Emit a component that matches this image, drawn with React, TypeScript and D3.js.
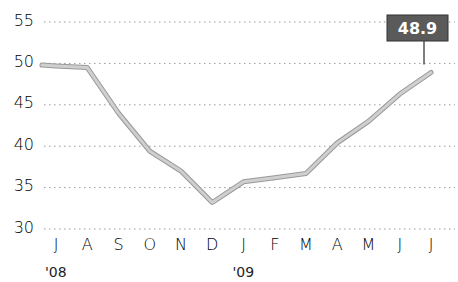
import React from "react";
import * as d3 from "d3";

const WIDTH = 458;
const HEIGHT = 282;

// month ticks, Jul '08 .. Jul '09
const months = ["J", "A", "S", "O", "N", "D", "J", "F", "M", "A", "M", "J", "J"];
const yearLabels = ["'08", "'09"];
const yearTickIndex = [0, 6];
const yTicks = [30, 35, 40, 45, 50, 55];

// line samples: position in months from Jul '08, and value
const samplePos = [-0.45, 0, 1, 2, 3, 4, 5, 6, 7, 8, 9, 10, 11, 12];
const sampleValue = [49.8, 49.7, 49.5, 44.0, 39.4, 37.0, 33.2, 35.7, 36.2, 36.7, 40.4, 43.0, 46.3, 48.9];

const FONT = "'DejaVu Sans', sans-serif";

export default function App() {
  const x = d3.scaleLinear().domain([0, 12]).range([56, 431]);
  const y = d3.scaleLinear().domain([30, 55]).range([229, 22]);

  const pts: [number, number][] = samplePos.map((p, i) => [x(p), y(sampleValue[i])]);
  const line = d3.line().curve(d3.curveLinear)(pts) || "";

  const last = pts[pts.length - 1];
  const lastValue = sampleValue[sampleValue.length - 1];
  const boxW = 61;
  const boxH = 26;
  const boxX = last[0] - 44;
  const boxY = 15;

  return (
    <div style={{ position: "absolute", left: 0, top: 0 }}>
      <svg width={WIDTH} height={HEIGHT} style={{ display: "block", background: "#fff" }}>
        {/* grid */}
        {yTicks.map((t) => (
          <line
            key={"g" + t}
            x1={44}
            x2={455}
            y1={y(t)}
            y2={y(t)}
            stroke="#9a9a9a"
            strokeWidth={1}
            strokeDasharray="1.5,3.5"
          />
        ))}
        {yTicks.map((t) => (
          <text
            key={"t" + t}
            x={34}
            y={y(t) - 1}
            textAnchor="end"
            dominantBaseline="middle"
            fontFamily={FONT}
            fontWeight={200}
            fontSize={16}
            fill="#000"
          >
            {t}
          </text>
        ))}
        {months.map((m, i) => (
          <text
            key={"m" + i}
            x={x(i)}
            y={245}
            textAnchor="middle"
            dominantBaseline="middle"
            fontFamily={FONT}
            fontWeight={200}
            fontSize={16}
            fill="#000"
          >
            {m}
          </text>
        ))}
        {yearLabels.map((l, i) => (
          <text
            key={"yr" + i}
            x={x(yearTickIndex[i]) - 11}
            y={273}
            dominantBaseline="middle"
            fontFamily={FONT}
            fontSize={14}
            fill="#222"
          >
            {l}
          </text>
        ))}

        {/* data line */}
        <path d={line} fill="none" stroke="#999" strokeWidth={5} strokeLinejoin="round" strokeLinecap="round" />
        <path d={line} fill="none" stroke="#cfcfcf" strokeWidth={3} strokeLinejoin="round" strokeLinecap="round" />

        {/* value callout */}
        <line x1={boxX + 37} x2={boxX + 37} y1={boxY + boxH} y2={last[1] - 8} stroke="#555" strokeWidth={1.5} />
        <rect x={boxX} y={boxY} width={boxW} height={boxH} fill="#5a5a5a" stroke="#333" strokeWidth={1} />
        <text
          x={boxX + boxW / 2}
          y={boxY + boxH / 2 + 1}
          textAnchor="middle"
          dominantBaseline="middle"
          fontFamily={FONT}
          fontSize={16}
          fontWeight="bold"
          fill="#fff"
        >
          {lastValue}
        </text>
      </svg>
    </div>
  );
}
